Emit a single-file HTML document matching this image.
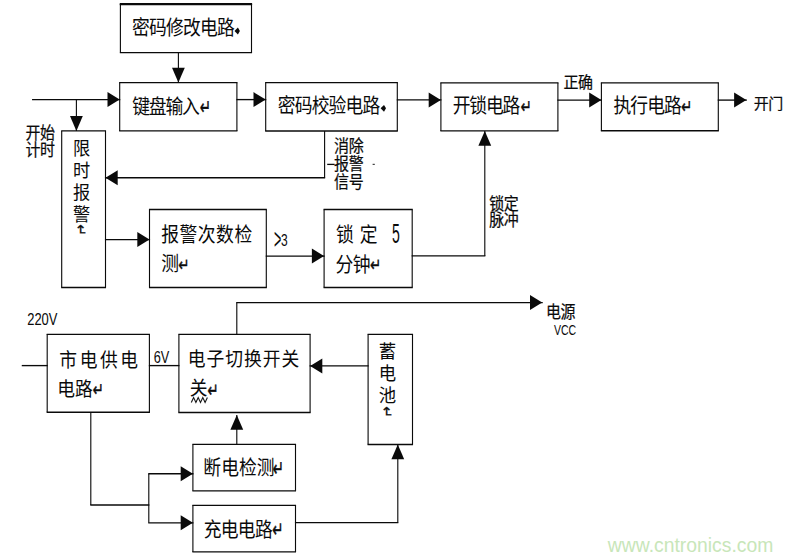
<!DOCTYPE html>
<html lang="zh-CN">
<head>
<meta charset="utf-8">
<title>电子密码锁系统框图</title>
<style>
html,body{margin:0;padding:0;background:#fff;}
body{width:792px;height:560px;overflow:hidden;}
svg{display:block;}
.t,.w{font-family:"Liberation Sans", "Noto Sans CJK SC", sans-serif;}
.t{font-weight:400;}
.m{font-family:"DejaVu Sans","Liberation Sans",sans-serif;}
.w{font-weight:400;}
</style>
</head>
<body>
<svg width="792" height="560" viewBox="0 0 792 560">
<rect x="0" y="0" width="792" height="560" fill="#ffffff"/>
<!-- horizontal strokes of boxes and connectors -->
<g fill="none" stroke="#0a0a0a" stroke-width="1.35">
<line x1="119.85" y1="4.20" x2="252.05" y2="4.20"/>
<line x1="119.85" y1="52.60" x2="252.05" y2="52.60"/>
<line x1="119.15" y1="82.60" x2="237.45" y2="82.60"/>
<line x1="119.15" y1="130.90" x2="237.45" y2="130.90"/>
<line x1="265.15" y1="82.60" x2="397.85" y2="82.60"/>
<line x1="265.15" y1="131.00" x2="397.85" y2="131.00"/>
<line x1="440.35" y1="82.80" x2="558.45" y2="82.80"/>
<line x1="440.35" y1="130.90" x2="558.45" y2="130.90"/>
<line x1="600.85" y1="82.80" x2="718.85" y2="82.80"/>
<line x1="600.85" y1="130.70" x2="718.85" y2="130.70"/>
<line x1="61.15" y1="130.90" x2="106.05" y2="130.90"/>
<line x1="61.15" y1="287.50" x2="106.05" y2="287.50"/>
<line x1="148.95" y1="209.50" x2="266.85" y2="209.50"/>
<line x1="148.95" y1="287.50" x2="266.85" y2="287.50"/>
<line x1="323.55" y1="209.50" x2="412.75" y2="209.50"/>
<line x1="323.55" y1="287.50" x2="412.75" y2="287.50"/>
<line x1="46.65" y1="334.30" x2="149.95" y2="334.30"/>
<line x1="46.65" y1="412.20" x2="149.95" y2="412.20"/>
<line x1="178.35" y1="334.40" x2="310.65" y2="334.40"/>
<line x1="178.35" y1="412.50" x2="310.65" y2="412.50"/>
<line x1="367.55" y1="334.40" x2="413.05" y2="334.40"/>
<line x1="367.55" y1="444.50" x2="413.05" y2="444.50"/>
<line x1="192.35" y1="444.40" x2="296.05" y2="444.40"/>
<line x1="192.35" y1="490.80" x2="296.05" y2="490.80"/>
<line x1="192.35" y1="505.30" x2="296.05" y2="505.30"/>
<line x1="192.35" y1="551.90" x2="296.05" y2="551.90"/>
<line x1="32.05" y1="99.60" x2="120.25" y2="99.60"/>
<line x1="236.35" y1="99.60" x2="266.25" y2="99.60"/>
<line x1="396.75" y1="99.90" x2="441.45" y2="99.90"/>
<line x1="557.35" y1="100.10" x2="601.95" y2="100.10"/>
<line x1="717.75" y1="100.10" x2="746.85" y2="100.10"/>
<line x1="104.95" y1="177.70" x2="325.15" y2="177.70"/>
<line x1="104.95" y1="239.60" x2="150.05" y2="239.60"/>
<line x1="265.75" y1="256.10" x2="324.65" y2="256.10"/>
<line x1="411.65" y1="255.90" x2="485.35" y2="255.90"/>
<line x1="21.75" y1="365.60" x2="47.75" y2="365.60"/>
<line x1="148.85" y1="365.60" x2="179.45" y2="365.60"/>
<line x1="236.25" y1="302.60" x2="542.75" y2="302.60"/>
<line x1="309.55" y1="365.90" x2="368.65" y2="365.90"/>
<line x1="90.25" y1="505.00" x2="149.35" y2="505.00"/>
<line x1="148.25" y1="473.70" x2="193.45" y2="473.70"/>
<line x1="148.25" y1="522.80" x2="193.45" y2="522.80"/>
<line x1="294.95" y1="522.60" x2="398.35" y2="522.60"/>
</g>
<!-- vertical strokes of boxes and connectors -->
<g fill="none" stroke="#0a0a0a" stroke-width="1.12">
<line x1="120.40" y1="4.20" x2="120.40" y2="52.60"/>
<line x1="251.50" y1="4.20" x2="251.50" y2="52.60"/>
<line x1="119.70" y1="82.60" x2="119.70" y2="130.90"/>
<line x1="236.90" y1="82.60" x2="236.90" y2="130.90"/>
<line x1="265.70" y1="82.60" x2="265.70" y2="131.00"/>
<line x1="397.30" y1="82.60" x2="397.30" y2="131.00"/>
<line x1="440.90" y1="82.80" x2="440.90" y2="130.90"/>
<line x1="557.90" y1="82.80" x2="557.90" y2="130.90"/>
<line x1="601.40" y1="82.80" x2="601.40" y2="130.70"/>
<line x1="718.30" y1="82.80" x2="718.30" y2="130.70"/>
<line x1="61.70" y1="130.90" x2="61.70" y2="287.50"/>
<line x1="105.50" y1="130.90" x2="105.50" y2="287.50"/>
<line x1="149.50" y1="209.50" x2="149.50" y2="287.50"/>
<line x1="266.30" y1="209.50" x2="266.30" y2="287.50"/>
<line x1="324.10" y1="209.50" x2="324.10" y2="287.50"/>
<line x1="412.20" y1="209.50" x2="412.20" y2="287.50"/>
<line x1="47.20" y1="334.30" x2="47.20" y2="412.20"/>
<line x1="149.40" y1="334.30" x2="149.40" y2="412.20"/>
<line x1="178.90" y1="334.40" x2="178.90" y2="412.50"/>
<line x1="310.10" y1="334.40" x2="310.10" y2="412.50"/>
<line x1="368.10" y1="334.40" x2="368.10" y2="444.50"/>
<line x1="412.50" y1="334.40" x2="412.50" y2="444.50"/>
<line x1="192.90" y1="444.40" x2="192.90" y2="490.80"/>
<line x1="295.50" y1="444.40" x2="295.50" y2="490.80"/>
<line x1="192.90" y1="505.30" x2="192.90" y2="551.90"/>
<line x1="295.50" y1="505.30" x2="295.50" y2="551.90"/>
<line x1="76.40" y1="99.60" x2="76.40" y2="130.90"/>
<line x1="178.40" y1="52.60" x2="178.40" y2="82.60"/>
<line x1="324.60" y1="131.00" x2="324.60" y2="177.70"/>
<line x1="484.80" y1="130.90" x2="484.80" y2="255.90"/>
<line x1="236.80" y1="302.60" x2="236.80" y2="334.40"/>
<line x1="236.80" y1="414.90" x2="236.80" y2="444.40"/>
<line x1="90.80" y1="412.20" x2="90.80" y2="505.00"/>
<line x1="148.80" y1="473.70" x2="148.80" y2="522.80"/>
<line x1="397.80" y1="444.50" x2="397.80" y2="522.60"/>
</g>
<g fill="none" stroke="#0a0a0a" stroke-width="1.25">
<line x1="119.8" y1="4.05" x2="252.1" y2="4.05" stroke-width="2.3"/>
<line x1="327.2" y1="164.4" x2="334.6" y2="164.4" stroke-width="1.3"/>
<polyline points="191.30,402.4 193.60,397.5 195.90,402.4 198.20,397.5 200.50,402.4 202.80,397.5 205.10,402.4 207.40,397.5" stroke-width="1.15" stroke="#1a1a1a" stroke-linejoin="miter"/>
</g>
<!-- arrow heads -->
<g fill="#0a0a0a" stroke="none">
<polygon points="119.7,99.6 107.5,107.1 107.5,92.1"/>
<polygon points="76.4,130.9 70.0,116.1 82.8,116.1"/>
<polygon points="178.4,82.6 172.0,67.8 184.8,67.8"/>
<polygon points="265.7,99.6 253.5,107.1 253.5,92.1"/>
<polygon points="440.9,99.9 428.7,107.4 428.7,92.4"/>
<polygon points="601.4,100.1 589.2,107.6 589.2,92.6"/>
<polygon points="746.3,100.1 734.1,107.6 734.1,92.6"/>
<polygon points="105.5,177.7 117.7,170.2 117.7,185.2"/>
<polygon points="149.5,239.6 137.3,247.1 137.3,232.1"/>
<polygon points="324.1,256.1 311.9,263.6 311.9,248.6"/>
<polygon points="484.8,130.9 491.2,145.7 478.4,145.7"/>
<polygon points="542.2,302.6 530.0,310.1 530.0,295.1"/>
<polygon points="310.1,365.9 322.3,358.4 322.3,373.4"/>
<polygon points="236.8,414.9 243.2,429.7 230.4,429.7"/>
<polygon points="192.9,473.7 180.7,481.2 180.7,466.2"/>
<polygon points="192.9,522.8 180.7,530.3 180.7,515.3"/>
<polygon points="397.8,444.5 404.2,459.3 391.4,459.3"/>
<polygon points="234.5,31.0 237.9,27.6 239.9,31.0 237.9,34.4"/>
<polygon points="380.6,108.3 384.0,104.9 386.0,108.3 384.0,111.7"/>
<rect x="372.6" y="163.8" width="2.2" height="1.1" fill="#333"/>
</g>
<!-- labels -->
<g>
<text class="t" transform="translate(132.11,35.48) scale(1.000,1.125)" font-size="17.80" fill="#0a0a0a" letter-spacing="-0.81">密码修改电路</text>
<text class="t" transform="translate(132.25,113.88) scale(1.000,1.125)" font-size="17.80" fill="#0a0a0a" letter-spacing="-1.22">键盘输入</text>
<text class="t" transform="translate(277.74,112.59) scale(1.000,1.125)" font-size="17.80" fill="#0a0a0a" letter-spacing="-0.84">密码校验电路</text>
<text class="t" transform="translate(452.63,113.42) scale(1.000,1.125)" font-size="17.80" fill="#0a0a0a" letter-spacing="-1.13">开锁电路</text>
<text class="t" transform="translate(613.61,113.38) scale(1.000,1.125)" font-size="17.80" fill="#0a0a0a" letter-spacing="-1.03">执行电路</text>
<text class="t" transform="translate(161.15,242.28) scale(1.000,1.125)" font-size="17.80" fill="#0a0a0a" letter-spacing="0.53">报警次数检</text>
<text class="t" transform="translate(161.15,271.07) scale(1.000,1.125)" font-size="17.80" fill="#0a0a0a">测</text>
<text class="t" transform="translate(336.05,242.12) scale(1.000,1.125)" font-size="17.80" fill="#0a0a0a" letter-spacing="5.83">锁定</text>
<text class="t" transform="translate(391.99,243.37) scale(0.804,1.628)" font-size="17.50" fill="#0a0a0a">5</text>
<text class="t" transform="translate(335.55,271.76) scale(1.000,1.125)" font-size="17.80" fill="#0a0a0a" letter-spacing="-0.57">分钟</text>
<text class="t" transform="translate(59.30,367.11) scale(1.000,1.075)" font-size="17.80" fill="#0a0a0a" letter-spacing="2.56">市电供电</text>
<text class="t" transform="translate(57.15,395.52) scale(1.000,1.075)" font-size="17.80" fill="#0a0a0a" letter-spacing="0.18">电路</text>
<text class="t" transform="translate(187.68,365.83) scale(1.000,1.075)" font-size="17.80" fill="#0a0a0a" letter-spacing="0.97">电子切换开关</text>
<text class="t" transform="translate(189.68,394.73) scale(1.000,1.075)" font-size="17.80" fill="#0a0a0a">关</text>
<text class="t" transform="translate(203.36,474.56) scale(1.000,1.125)" font-size="17.80" fill="#0a0a0a" letter-spacing="-0.01">断电检测</text>
<text class="t" transform="translate(203.68,537.04) scale(1.000,1.125)" font-size="17.80" fill="#0a0a0a" letter-spacing="-0.70">充电电路</text>
<text class="t" transform="translate(73.03,154.60) scale(1.000,1.080)" font-size="17.20" fill="#0a0a0a">限</text>
<text class="t" transform="translate(73.03,176.67) scale(1.000,1.080)" font-size="17.20" fill="#0a0a0a">时</text>
<text class="t" transform="translate(73.03,198.75) scale(1.000,1.080)" font-size="17.20" fill="#0a0a0a">报</text>
<text class="t" transform="translate(73.03,220.82) scale(1.000,1.080)" font-size="17.20" fill="#0a0a0a">警</text>
<text class="t" transform="translate(378.84,358.06) scale(1.000,1.070)" font-size="17.40" fill="#0a0a0a">蓄</text>
<text class="t" transform="translate(378.84,380.01) scale(1.000,1.070)" font-size="17.40" fill="#0a0a0a">电</text>
<text class="t" transform="translate(378.84,401.95) scale(1.000,1.070)" font-size="17.40" fill="#0a0a0a">池</text>
<text class="t" transform="translate(25.40,138.79) scale(1.000,1.120)" font-size="15.00" fill="#0a0a0a" letter-spacing="-0.45" stroke="#0a0a0a" stroke-width="0.20">开始</text>
<text class="t" transform="translate(25.40,155.50) scale(1.000,1.120)" font-size="15.00" fill="#0a0a0a" letter-spacing="-0.45" stroke="#0a0a0a" stroke-width="0.20">计时</text>
<text class="t" transform="translate(334.11,152.10) scale(1.000,1.120)" font-size="15.00" fill="#0a0a0a" letter-spacing="-0.45" stroke="#0a0a0a" stroke-width="0.20">消除</text>
<text class="t" transform="translate(334.11,170.20) scale(1.000,1.120)" font-size="15.00" fill="#0a0a0a" letter-spacing="-0.45" stroke="#0a0a0a" stroke-width="0.20">报警</text>
<text class="t" transform="translate(334.11,188.30) scale(1.000,1.120)" font-size="15.00" fill="#0a0a0a" letter-spacing="-0.45" stroke="#0a0a0a" stroke-width="0.20">信号</text>
<text class="t" transform="translate(563.54,88.04) scale(1.000,1.060)" font-size="15.00" fill="#0a0a0a" letter-spacing="-0.45" stroke="#0a0a0a" stroke-width="0.20">正确</text>
<text class="t" transform="translate(753.82,108.68) scale(1.000,0.980)" font-size="15.00" fill="#0a0a0a" letter-spacing="-0.45" stroke="#0a0a0a" stroke-width="0.20">开门</text>
<text class="t" transform="translate(489.26,209.54) scale(1.000,1.120)" font-size="15.00" fill="#0a0a0a" letter-spacing="-0.45" stroke="#0a0a0a" stroke-width="0.20">锁定</text>
<text class="t" transform="translate(489.26,225.61) scale(1.000,1.120)" font-size="15.00" fill="#0a0a0a" letter-spacing="-0.45" stroke="#0a0a0a" stroke-width="0.20">脉冲</text>
<text class="t" transform="translate(546.02,317.90) scale(1.000,1.120)" font-size="15.00" fill="#0a0a0a" letter-spacing="-0.45" stroke="#0a0a0a" stroke-width="0.20">电源</text>
<text class="t" transform="translate(553.90,335.00) scale(0.880,1.200)" font-size="12.00" fill="#0a0a0a">VCC</text>
<text class="t" transform="translate(27.20,324.60) scale(1.080,1.320)" font-size="12.00" fill="#0a0a0a">220V</text>
<text class="t" transform="translate(153.80,363.20) scale(1.060,1.320)" font-size="12.00" fill="#0a0a0a">6V</text>
<text class="t" transform="translate(273.90,249.20) scale(1.040,2.420)" font-size="12.00" fill="#0a0a0a">&gt;</text>
<text class="t" transform="translate(281.00,245.60) scale(1.000,1.360)" font-size="12.00" fill="#0a0a0a">3</text>
<text class="w" transform="translate(607.80,551.80) scale(1.000,1.000)" font-size="19.35" fill="#c8e6b9">www.cntronics.com</text>
<text class="m" transform="translate(199.80,114.41) scale(0.95,1.472)" font-size="14" fill="#0a0a0a" stroke="#0a0a0a" stroke-width="0.35">↵</text>
<text class="m" transform="translate(520.60,113.45) scale(0.95,1.347)" font-size="14" fill="#0a0a0a" stroke="#0a0a0a" stroke-width="0.35">↵</text>
<text class="m" transform="translate(681.10,113.15) scale(0.95,1.347)" font-size="14" fill="#0a0a0a" stroke="#0a0a0a" stroke-width="0.35">↵</text>
<text class="m" transform="translate(178.20,270.98) scale(0.95,1.292)" font-size="14" fill="#0a0a0a" stroke="#0a0a0a" stroke-width="0.35">↵</text>
<text class="m" transform="translate(369.90,270.98) scale(0.95,1.292)" font-size="14" fill="#0a0a0a" stroke="#0a0a0a" stroke-width="0.35">↵</text>
<text class="m" transform="translate(92.80,396.13) scale(0.95,1.333)" font-size="14" fill="#0a0a0a" stroke="#0a0a0a" stroke-width="0.35">↵</text>
<text class="m" transform="translate(207.60,396.81) scale(0.95,1.389)" font-size="14" fill="#0a0a0a" stroke="#0a0a0a" stroke-width="0.35">↵</text>
<text class="m" transform="translate(272.80,475.60) scale(0.95,1.542)" font-size="14" fill="#0a0a0a" stroke="#0a0a0a" stroke-width="0.35">↵</text>
<text class="m" transform="translate(272.30,536.87) scale(0.95,1.514)" font-size="14" fill="#0a0a0a" stroke="#0a0a0a" stroke-width="0.35">↵</text>
<text class="m" transform="translate(81.25,230.00) rotate(90) scale(1.0,1.05) translate(-5.9,4.9)" font-size="14" fill="#0a0a0a" stroke="#0a0a0a" stroke-width="0.3">↵</text>
<text class="m" transform="translate(387.50,411.90) rotate(90) scale(1.0,1.05) translate(-5.9,4.9)" font-size="14" fill="#0a0a0a" stroke="#0a0a0a" stroke-width="0.3">↵</text>
</g>
</svg>
</body>
</html>
